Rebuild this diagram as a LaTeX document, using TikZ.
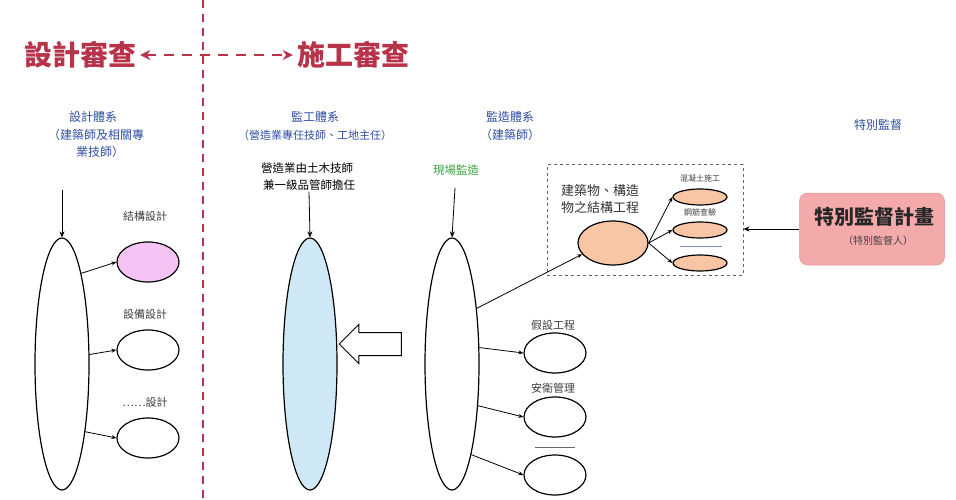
\documentclass[tikz,border=0pt]{standalone}
\usepackage{fontspec}
\setmainfont{Noto Sans CJK TC}
\usetikzlibrary{shapes.geometric,shapes.arrows,arrows.meta,calc}
\definecolor{tred}{HTML}{B8324A}
\definecolor{hblue}{HTML}{2E4FA0}
\definecolor{hgreen}{HTML}{3BA53F}
\definecolor{pinkfill}{HTML}{F5C4F5}
\definecolor{bluefill}{HTML}{CFE8F6}
\definecolor{orfill}{HTML}{F8C6A4}
\definecolor{boxfill}{HTML}{F4A9AA}
\tikzset{
  big/.style={ellipse,draw=black,line width=1.2pt,minimum width=54pt,minimum height=252pt,inner sep=0pt},
  sm/.style={ellipse,draw=black,line width=1.2pt,minimum width=62pt,minimum height=40pt,inner sep=0pt},
  tiny/.style={ellipse,draw=black,line width=1.2pt,fill=orfill,minimum width=54pt,minimum height=16pt,inner sep=0pt},
  lbl/.style={font=\fontsize{11}{12}\selectfont,text=black!75,inner sep=1pt},
  hdr/.style={font=\fontsize{12}{14}\selectfont,text=hblue,inner sep=1pt},
  conn/.style={line width=0.8pt,-{Stealth[length=5pt,width=4pt]}},
  down/.style={line width=0.8pt,-{Stealth[length=6pt,width=5pt]}},
  ttl/.style={font=\fontsize{28}{32}\selectfont\bfseries,text=tred,inner sep=1pt}
}
\begin{document}
\begin{tikzpicture}[x=1pt,y=-1pt]
\useasboundingbox (0,0) rectangle (956,500);
\fill[white] (0,0) rectangle (956,500);
% divider
\coordinate (dtop) at (203,0);
\coordinate (dbot) at (203,500);
\draw[tred,line width=2pt,dash pattern=on 8pt off 6pt] (dtop) -- (dbot);
% titles
\node[ttl] (t1) at (80,55) {設計審查};
\node[ttl] (t2) at (353,55) {施工審查};
\draw[tred,line width=1.8pt,dash pattern=on 10pt off 8pt,{Stealth[length=10pt,width=10pt]}-{Stealth[length=10pt,width=10pt]}] ([xshift=3pt]t1.east) -- ([xshift=-3pt]t2.west);
% headers
\node[hdr] (h1) at (93,117) {設計體系};
\node[hdr] (h1a) at (96,135) {（建築師及相關專};
\node[hdr] (h1b) at (100,152) {業技師）};
\node[hdr] (h2) at (315,117) {監工體系};
\node[hdr,font=\fontsize{11}{12}\selectfont] (h2a) at (315,135) {（營造業專任技師、工地主任）};
\node[lbl,font=\fontsize{11.5}{13}\selectfont,text=black] (h2b) at (307,168) {營造業由土木技師};
\node[lbl,font=\fontsize{11.5}{13}\selectfont,text=black] (h2c) at (309,185) {兼一級品管師擔任};
\node[hdr] (h3) at (510,117) {監造體系};
\node[hdr] (h3a) at (510,135) {（建築師）};
\node[hdr,text=hgreen,font=\fontsize{11.5}{13}\selectfont] (h3b) at (456,170) {現場監造};
\node[hdr] (h4) at (878,125) {特別監督};
% big ellipses
\node[big] (bigL) at (62,364) {};
\node[big,fill=bluefill] (bigM) at (310,364) {};
\node[big] (bigR) at (452,364) {};
\coordinate (aL) at (62,190);
\draw[down] (aL) -- (bigL.north);
\draw[down] (h2c.south) -- (bigM.north);
\coordinate (aR) at (455,188);
\draw[down] (aR) -- (bigR.north);
% left small ellipses
\node[lbl] (l1) at (145,216) {結構設計};
\node[sm,fill=pinkfill] (e1) at (148,262) {};
\node[lbl] (l2) at (145,314) {設備設計};
\node[sm] (e2) at (148,350) {};
\node[lbl] (l3) at (145,402) {……設計};
\node[sm] (e3) at (148,438) {};
\draw[conn] (bigL.78) -- (e1.west);
\draw[conn] (bigL.19) -- (e2.west);
\draw[conn] (bigL.-71) -- (e3.west);
% hollow arrow
\node[single arrow,draw=black,line width=1pt,fill=white,shape border rotate=180,minimum height=62pt,inner xsep=0pt,inner ysep=11pt,single arrow head extend=8pt] (ha) at (376,344) {};
% right lower ellipses
\node[lbl] (r1) at (553,325) {假設工程};
\node[sm] (f1) at (555,353) {};
\node[lbl] (r2) at (553,388) {安衛管理};
\node[sm] (f2) at (555,417) {};
\coordinate (rl1) at (535,447);
\coordinate (rl2) at (575,447);
\draw[black!60,line width=0.6pt] (rl1) -- (rl2);
\node[sm] (f3) at (555,475) {};
\draw[conn] (bigR.31) -- (f1.west);
\draw[conn] (bigR.-58) -- (f2.west);
\draw[conn] (bigR.-78) -- (f3.west);
% dashed box
\node[draw=black!60,line width=1pt,dash pattern=on 3pt off 3pt,minimum width=196pt,minimum height=110pt,inner sep=0pt] (dbox) at (645,220) {};
\node[lbl,font=\fontsize{13}{17}\selectfont,text=black!80,align=left] (bt) at (600,199) {建築物、構造\\物之結構工程};
\node[ellipse,draw=black,line width=1.2pt,fill=orfill,minimum width=70pt,minimum height=44pt,inner sep=0pt] (oe) at (613,243) {};
\node[lbl,font=\fontsize{8}{9}\selectfont] (s1) at (700,178) {混凝土施工};
\node[tiny] (o1) at (700,197) {};
\node[lbl,font=\fontsize{8}{9}\selectfont] (s2) at (700,212) {鋼筋查驗};
\node[tiny] (o2) at (700,230) {};
\coordinate (sl1) at (680,246);
\coordinate (sl2) at (722,246);
\draw[hblue!60,line width=0.8pt] (sl1) -- (sl2);
\node[tiny] (o3) at (700,263) {};
\draw[conn] (bigR.66) -- (oe.200);
\draw[conn] (oe.east) -- (o1.west);
\draw[conn] (oe.east) -- (o2.west);
\draw[conn] (oe.east) -- (o3.west);
% pink box
\node[draw=boxfill!90!black,line width=0.5pt,fill=boxfill,rounded corners=8pt,minimum width=145pt,minimum height=72pt,inner sep=0pt] (pb) at (872,229) {};
\node[font=\fontsize{20}{22}\selectfont\bfseries,text=black!85,inner sep=1pt] (pt) at (874,217) {特別監督計畫};
\node[lbl,font=\fontsize{10}{11}\selectfont] (pt2) at (878,241) {（特別監督人）};
\draw[line width=1pt,-{Stealth[length=6pt,width=5pt]}] (pb.west) -- (dbox.east |- pb.west);
\end{tikzpicture}
\end{document}
